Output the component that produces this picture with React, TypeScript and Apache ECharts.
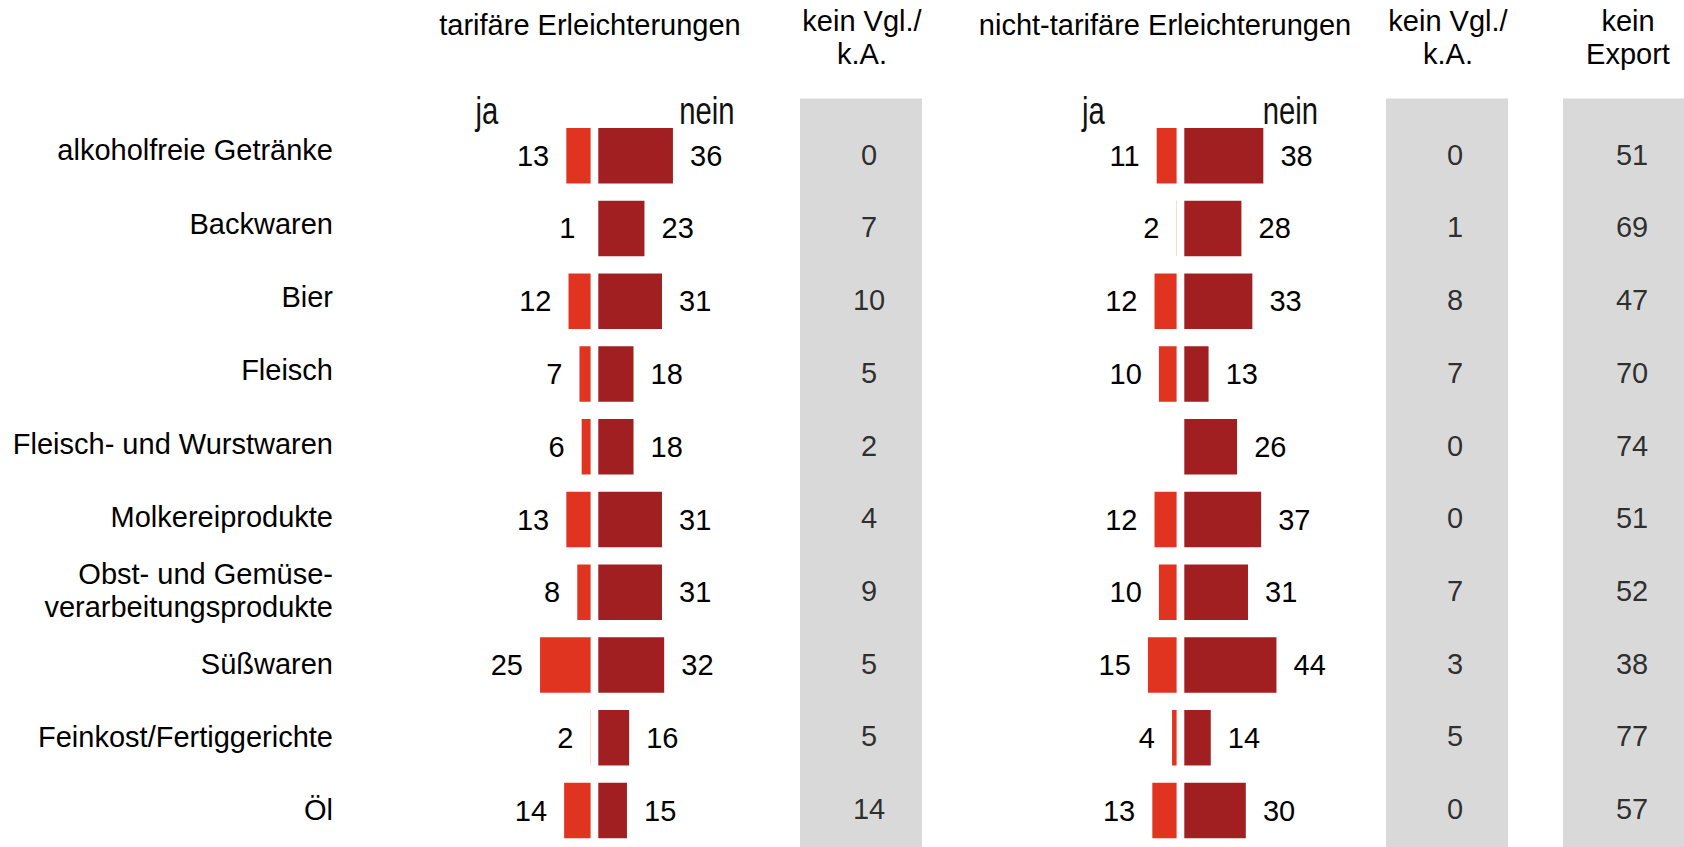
import React, { useEffect, useRef } from 'react';
import * as echarts from 'echarts';

// ---------- data ----------
const categories = [
  'alkoholfreie Getränke',
  'Backwaren',
  'Bier',
  'Fleisch',
  'Fleisch- und Wurstwaren',
  'Molkereiprodukte',
  'Obst- und Gemüse-\nverarbeitungsprodukte',
  'Süßwaren',
  'Feinkost/Fertiggerichte',
  'Öl',
];
const tarifJa = [13, 1, 12, 7, 6, 13, 8, 25, 2, 14];
const tarifNein = [36, 23, 31, 18, 18, 31, 31, 32, 16, 15];
const tarifKeinVgl = [0, 7, 10, 5, 2, 4, 9, 5, 5, 14];
const nichtTarifJa = [11, 2, 12, 10, 0, 12, 10, 15, 4, 13];
const nichtTarifNein = [38, 28, 33, 13, 26, 37, 31, 44, 14, 30];
const nichtTarifKeinVgl = [0, 1, 8, 7, 0, 0, 7, 3, 5, 0];
const keinExport = [51, 69, 47, 70, 74, 51, 52, 38, 77, 57];

const headerTarif = 'tarifäre Erleichterungen';
const headerNichtTarif = 'nicht-tarifäre Erleichterungen';
const headerKeinVgl = 'kein Vgl./\nk.A.';
const headerKeinExport = 'kein\nExport';
const labelJa = 'ja';
const labelNein = 'nein';

// ---------- styles ----------
const FONT = "'Liberation Sans', Arial, Helvetica, sans-serif";
const FS = 29;
const JA_COLOR = '#e03320';
const NEIN_COLOR = '#a11f21';
const GRAY = '#d9d9d9';

const BAR_TOP = 119.25;
const BAR_H = 735;
const AXIS_MAX = 50;
const BAR_AREA = 109.5;
const VAL_TOP = 118.35;
const VAL_H = 727;

function buildOption() {
  const grids: any[] = [
    { left: 343, top: 113.75, width: 10, height: BAR_H }, // 0 category labels
    { left: 483.2, top: BAR_TOP, width: BAR_AREA, height: BAR_H }, // 1 tarif ja
    { left: 596.2, top: BAR_TOP, width: BAR_AREA, height: BAR_H }, // 2 tarif nein
    { left: 1069.2, top: BAR_TOP, width: BAR_AREA, height: BAR_H }, // 3 nicht-tarif ja
    { left: 1182.2, top: BAR_TOP, width: BAR_AREA, height: BAR_H }, // 4 nicht-tarif nein
    { left: 849, top: VAL_TOP, width: 40, height: VAL_H }, // 5 kein Vgl 1
    { left: 1435, top: VAL_TOP, width: 40, height: VAL_H }, // 6 kein Vgl 2
    { left: 1612, top: VAL_TOP, width: 40, height: VAL_H }, // 7 kein Export
  ];

  const xAxes = grids.map((_, i) => {
    const base: any = {
      type: 'value',
      gridIndex: i,
      show: false,
      splitLine: { show: false },
    };
    if (i === 0) return { ...base, min: 0, max: 1 };
    if (i >= 5) return { ...base, min: -1, max: 1 };
    return { ...base, min: 0, max: AXIS_MAX, inverse: i === 1 || i === 3 };
  });

  const yAxes = grids.map((_, i) => ({
    type: 'category',
    gridIndex: i,
    data: categories,
    inverse: true,
    show: i === 0,
    position: 'left',
    axisLine: { show: false, onZero: false },
    axisTick: { show: false },
    splitLine: { show: false },
    axisLabel: {
      show: i === 0,
      fontSize: FS,
      fontFamily: FONT,
      color: '#000',
      lineHeight: 33,
      margin: 10,
      align: 'right',
    },
  }));

  const labelStyle = { fontSize: FS, fontFamily: FONT, color: '#000' };

  const bar = (data: number[], idx: number, color: string, side: 'left' | 'right') => ({
    type: 'bar',
    xAxisIndex: idx,
    yAxisIndex: idx,
    data,
    barWidth: 59.7,
    itemStyle: { color, borderColor: '#ffffff', borderWidth: 2.1 },
    label: {
      show: true,
      position: side,
      distance: 15,
      ...labelStyle,
      formatter: (p: any) => (p.value ? String(p.value) : ''),
    },
  });

  const values = (data: number[], idx: number) => ({
    type: 'scatter',
    xAxisIndex: idx,
    yAxisIndex: idx,
    data: data.map((v, i) => [0, i, v]),
    encode: { x: 0, y: 1 },
    symbolSize: 1,
    itemStyle: { color: 'rgba(0,0,0,0)' },
    label: {
      show: true,
      position: 'inside',
      ...labelStyle,
      formatter: (p: any) => String(p.value[2]),
    },
  });

  const headerText = (text: string, x: number, y: number, opts: any = {}, el: any = {}) => ({
    type: 'text',
    x,
    y,
    silent: true,
    ...el,
    style: {
      text,
      fontSize: FS,
      fontFamily: FONT,
      fill: '#000',
      align: 'center',
      verticalAlign: 'middle',
      lineHeight: 33,
      ...opts,
    },
  });

  const narrow = (text: string, x: number, align: string) =>
    headerText(
      text,
      x,
      110.5,
      { align, fontSize: 38, fontFamily: FONT, fill: '#111' },
      { scaleX: 0.77, scaleY: 1 }
    );

  const grayRect = (x: number) => ({
    type: 'rect',
    z: -10,
    silent: true,
    shape: { x, y: 98.5, width: 122, height: 760 },
    style: { fill: GRAY },
  });

  return {
    animation: false,
    backgroundColor: '#ffffff',
    grid: grids,
    xAxis: xAxes,
    yAxis: yAxes,
    series: [
      bar(tarifJa, 1, JA_COLOR, 'left'),
      bar(tarifNein, 2, NEIN_COLOR, 'right'),
      bar(nichtTarifJa, 3, JA_COLOR, 'left'),
      bar(nichtTarifNein, 4, NEIN_COLOR, 'right'),
      values(tarifKeinVgl, 5),
      values(nichtTarifKeinVgl, 6),
      values(keinExport, 7),
    ],
    graphic: [
      grayRect(800),
      grayRect(1386),
      grayRect(1563),
      headerText(headerTarif, 590, 24.7),
      headerText(headerNichtTarif, 1165, 24.5),
      headerText(headerKeinVgl, 862, 37.7),
      headerText(headerKeinVgl, 1448, 37.7),
      headerText(headerKeinExport, 1628, 37.7),
      narrow(labelJa, 475.5, 'left'),
      narrow(labelNein, 734.5, 'right'),
      narrow(labelJa, 1082, 'left'),
      narrow(labelNein, 1318, 'right'),
    ],
  };
}

export default function App() {
  const ref = useRef<HTMLDivElement>(null);
  useEffect(() => {
    if (!ref.current) return;
    const chart = echarts.init(ref.current, undefined, { renderer: 'svg' });
    chart.setOption(buildOption() as any);
    return () => chart.dispose();
  }, []);
  return (
    <div
      ref={ref}
      style={{ position: 'absolute', left: 0, top: 0, width: 1684, height: 847, background: '#fff' }}
    />
  );
}
